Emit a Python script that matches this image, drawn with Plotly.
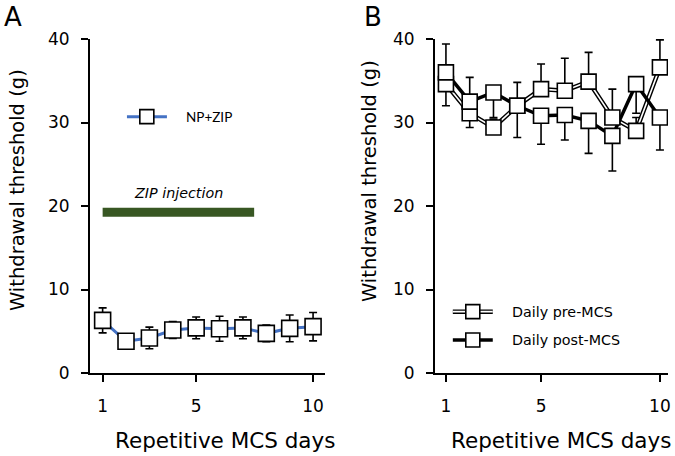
import plotly.graph_objects as go

days = [1, 2, 3, 4, 5, 6, 7, 8, 9, 10]

# Panel A: NP+ZIP
np_zip = [6.3, 3.8, 4.2, 5.15, 5.4, 5.3, 5.4, 4.75, 5.35, 5.55]
np_zip_err = [1.5, 0.6, 1.3, 1.0, 1.3, 1.5, 1.3, 1.0, 1.6, 1.7]

# Panel B: daily pre-MCS / post-MCS
pre_mcs = [34.6, 31.1, 29.4, 32.0, 34.0, 33.8, 34.9, 30.6, 29.0, 36.6]
pre_err_plus = [0, 0, 1.0, 2.8, 3.0, 3.9, 3.5, 3.4, 1.6, 3.3]
pre_err_minus = [2.6, 1.7, 0, 0, 0, 0, 0, 0, 0, 0]
post_mcs = [36.0, 32.5, 33.6, 32.0, 30.8, 30.9, 30.2, 28.4, 34.6, 30.6]
post_err_plus = [3.4, 2.9, 0, 0, 0, 0, 0, 0, 0, 0]
post_err_minus = [0, 0, 3.0, 3.8, 3.4, 3.0, 3.9, 4.2, 3.5, 3.9]

x_ticks = [1, 5, 10]
y_ticks = [0, 10, 20, 30, 40]

BLUE = "#4472C4"
GREEN = "#385723"
FONT = "DejaVu Sans"
TICKFONT = dict(family=FONT, size=17, color="black")

W, H = 675, 456

fig = go.Figure()

# ---- Panel A ----
fig.add_trace(go.Scatter(x=days, y=np_zip, mode="lines",
                         line=dict(color=BLUE, width=3),
                         xaxis="x", yaxis="y", showlegend=False))
fig.add_trace(go.Scatter(x=days, y=np_zip, mode="markers",
                         marker=dict(opacity=0, size=2),
                         error_y=dict(type="data", array=np_zip_err, color="black",
                                      thickness=1.6, width=4),
                         xaxis="x", yaxis="y", showlegend=False))
fig.add_trace(go.Scatter(x=days, y=np_zip, mode="markers",
                         marker=dict(symbol="square", size=16, color="white",
                                     line=dict(color="black", width=1.6)),
                         xaxis="x", yaxis="y", showlegend=False))

# ---- Panel B ----
fig.add_trace(go.Scatter(x=days, y=pre_mcs, mode="lines",
                         line=dict(color="black", width=4.5),
                         xaxis="x2", yaxis="y2", showlegend=False))
fig.add_trace(go.Scatter(x=days, y=pre_mcs, mode="lines",
                         line=dict(color="white", width=1.6),
                         xaxis="x2", yaxis="y2", showlegend=False))
fig.add_trace(go.Scatter(x=days, y=post_mcs, mode="lines",
                         line=dict(color="black", width=3.5),
                         xaxis="x2", yaxis="y2", showlegend=False))
fig.add_trace(go.Scatter(x=days, y=pre_mcs, mode="markers",
                         marker=dict(opacity=0, size=2),
                         error_y=dict(type="data", symmetric=False, array=pre_err_plus,
                                      arrayminus=pre_err_minus, color="black",
                                      thickness=1.6, width=4),
                         xaxis="x2", yaxis="y2", showlegend=False))
fig.add_trace(go.Scatter(x=days, y=post_mcs, mode="markers",
                         marker=dict(opacity=0, size=2),
                         error_y=dict(type="data", symmetric=False, array=post_err_plus,
                                      arrayminus=post_err_minus, color="black",
                                      thickness=1.6, width=4),
                         xaxis="x2", yaxis="y2", showlegend=False))
for vals in (pre_mcs, post_mcs):
    fig.add_trace(go.Scatter(x=days, y=vals, mode="markers",
                             marker=dict(symbol="square", size=15, color="white",
                                         line=dict(color="black", width=1.6)),
                             xaxis="x2", yaxis="y2", showlegend=False))

# ---- Legend A (manual) ----
fig.add_shape(type="line", xref="x", yref="y", x0=2.04, x1=3.75, y0=30.7, y1=30.7,
              line=dict(color=BLUE, width=3))
fig.add_shape(type="rect", xref="x", yref="y", xsizemode="pixel", ysizemode="pixel",
              xanchor=2.89, yanchor=30.7, x0=-7, x1=7, y0=-7, y1=7,
              fillcolor="white", line=dict(color="black", width=1.6))
fig.add_annotation(x=4.5, y=30.7, xref="x", yref="y", text="NP+ZIP", showarrow=False,
                   xanchor="left", yanchor="middle",
                   font=dict(family="Lato", size=13.5, color="black"))

# ZIP injection bar
fig.add_shape(type="rect", xref="x", yref="y", x0=1.0, x1=7.48, y0=18.7, y1=19.8,
              fillcolor=GREEN, line=dict(width=0))
fig.add_annotation(x=4.24, y=21.5, xref="x", yref="y", text="<i>ZIP injection</i>",
                   showarrow=False, xanchor="center", yanchor="middle",
                   font=dict(family=FONT, size=14.3, color="black"))

# ---- Legend B (manual) ----
for yv, kind in ((7.35, "pre"), (3.95, "post")):
    if kind == "pre":
        fig.add_shape(type="line", xref="x2", yref="y2", x0=1.29, x1=2.97, y0=yv, y1=yv,
                      line=dict(color="black", width=4.5))
        fig.add_shape(type="line", xref="x2", yref="y2", x0=1.29, x1=2.97, y0=yv, y1=yv,
                      line=dict(color="white", width=1.6))
    else:
        fig.add_shape(type="line", xref="x2", yref="y2", x0=1.29, x1=2.97, y0=yv, y1=yv,
                      line=dict(color="black", width=3.5))
    fig.add_shape(type="rect", xref="x2", yref="y2", xsizemode="pixel", ysizemode="pixel",
                  xanchor=2.13, yanchor=yv, x0=-7, x1=7, y0=-7, y1=7,
                  fillcolor="white", line=dict(color="black", width=1.6))
fig.add_annotation(x=3.69, y=7.35, xref="x2", yref="y2", text="Daily pre-MCS",
                   showarrow=False, xanchor="left", yanchor="middle",
                   font=dict(family=FONT, size=14.3, color="black"))
fig.add_annotation(x=3.69, y=3.95, xref="x2", yref="y2", text="Daily post-MCS",
                   showarrow=False, xanchor="left", yanchor="middle",
                   font=dict(family=FONT, size=14.3, color="black"))

# ---- Titles / panel letters (pixel coords -> paper) ----
def px(xp):
    return xp / W
def py(yp):
    return 1 - yp / H

for cx, letter in ((13, "A"), (373, "B")):
    fig.add_annotation(x=px(cx), y=1, xref="paper", yref="paper", text=letter,
                       showarrow=False, xanchor="center", yanchor="top",
                       font=dict(family=FONT, size=26, color="black"))
for cx in (225, 561):
    fig.add_annotation(x=px(cx), y=py(440), xref="paper", yref="paper",
                       text="Repetitive MCS days", showarrow=False,
                       xanchor="center", yanchor="middle",
                       font=dict(family=FONT, size=21.5, color="black"))
for cx, cy in ((17, 190), (370, 181)):
    fig.add_annotation(x=px(cx), y=py(cy), xref="paper", yref="paper",
                       text="Withdrawal threshold (g)", showarrow=False, textangle=-90,
                       xanchor="center", yanchor="middle",
                       font=dict(family=FONT, size=19.5, color="black"))

axis_common = dict(showgrid=False, zeroline=False, showline=True, linecolor="black",
                   linewidth=2, ticks="outside", ticklen=7, tickwidth=2,
                   tickcolor="black", tickfont=TICKFONT, automargin=False)

ydom = [py(373), py(39)]
fig.update_layout(
    width=W, height=H,
    margin=dict(l=0, r=0, t=0, b=0, autoexpand=False),
    paper_bgcolor="white", plot_bgcolor="white",
    showlegend=False,
    xaxis=dict(domain=[px(90), px(325)], range=[0.46, 10.51], tickvals=x_ticks,
               anchor="y", ticklabelstandoff=10, **axis_common),
    yaxis=dict(domain=ydom, range=[0, 40], tickvals=y_ticks, anchor="x",
               ticklabelstandoff=8, **axis_common),
    xaxis2=dict(domain=[px(435), px(668)], range=[0.54, 10.34], tickvals=x_ticks,
                anchor="y2", ticklabelstandoff=10, **axis_common),
    yaxis2=dict(domain=ydom, range=[0, 40], tickvals=y_ticks, anchor="x2",
                ticklabelstandoff=8, **axis_common),
)

fig.write_html("out.html", config={"displayModeBar": False},
               post_script="document.body.style.margin='0px';")
